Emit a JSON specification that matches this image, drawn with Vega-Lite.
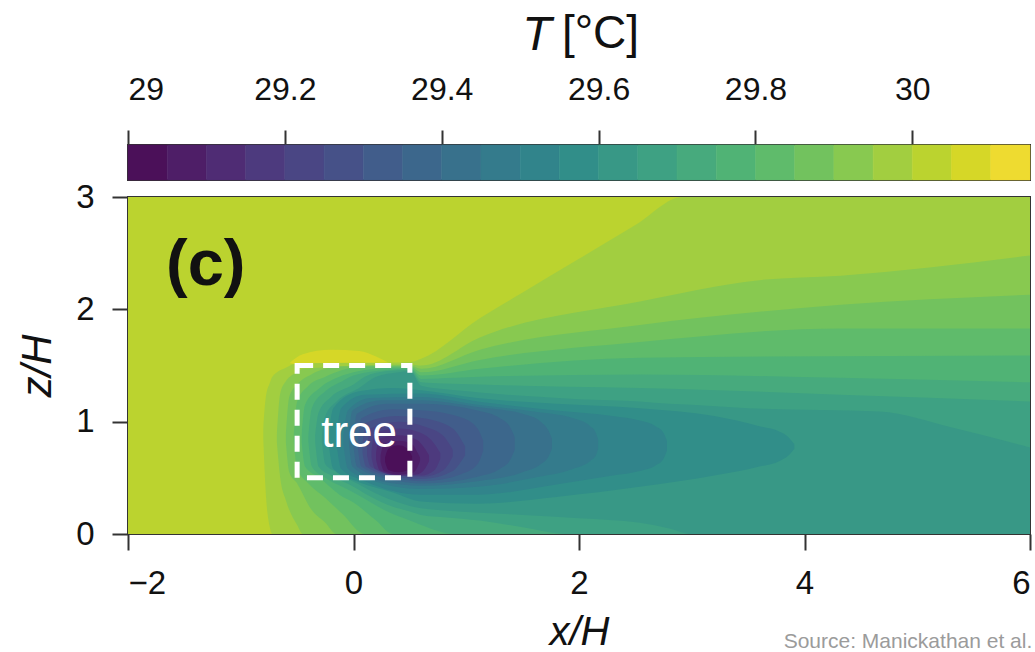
{
  "$schema": "https://vega.github.io/schema/vega-lite/v6.json",
  "background": "white",
  "padding": {"left": 15, "top": 9, "right": 0, "bottom": 0},
  "config": {
    "font": "Liberation Sans",
    "view": {"stroke": "#333333", "strokeWidth": 2},
    "axis": {"grid": false, "domain": false, "tickColor": "#333333", "tickWidth": 2, "labelColor": "#111111", "titleColor": "#111111", "titleFontWeight": "normal"}
  },
  "title": {"text": "Source: Manickathan et al.", "orient": "bottom", "anchor": "start", "frame": "bounds", "dx": 768, "offset": -22, "fontSize": 21, "fontWeight": "normal", "color": "#9b9b9b"},
  "spacing": 17,
  "bounds": "flush",
  "resolve": {"scale": {"color": "independent", "stroke": "independent"}},
  "datasets": {
    "bands": [
      {"t0": 29, "t1": 29.05}, {"t0": 29.05, "t1": 29.1}, {"t0": 29.1, "t1": 29.15}, {"t0": 29.15, "t1": 29.2},
      {"t0": 29.2, "t1": 29.25}, {"t0": 29.25, "t1": 29.3}, {"t0": 29.3, "t1": 29.35}, {"t0": 29.35, "t1": 29.4},
      {"t0": 29.4, "t1": 29.45}, {"t0": 29.45, "t1": 29.5}, {"t0": 29.5, "t1": 29.55}, {"t0": 29.55, "t1": 29.6},
      {"t0": 29.6, "t1": 29.65}, {"t0": 29.65, "t1": 29.7}, {"t0": 29.7, "t1": 29.75}, {"t0": 29.75, "t1": 29.8},
      {"t0": 29.8, "t1": 29.85}, {"t0": 29.85, "t1": 29.9}, {"t0": 29.9, "t1": 29.95}, {"t0": 29.95, "t1": 30},
      {"t0": 30, "t1": 30.05}, {"t0": 30.05, "t1": 30.1}, {"t0": 30.1, "t1": 30.15}
    ],
    "tree": [{"x0": -0.5, "x1": 0.5, "z0": 0.5, "z1": 1.5}],
    "treeLabel": [{"x": 0.05, "z": 0.775, "label": "tree"}],
    "panel": [{"x": -1.31, "z": 2.22, "label": "(c)"}],
    "contours": [
      {"t":30.025,"x":-2,"lo":0,"hi":3},{"t":30.025,"x":6,"lo":0,"hi":3},

      {"t":30.075,"x":-0.56,"lo":1.52,"hi":1.53},{"t":30.075,"x":-0.45,"lo":1.5,"hi":1.6},{"t":30.075,"x":-0.2,"lo":1.5,"hi":1.64},{"t":30.075,"x":0.05,"lo":1.5,"hi":1.63},{"t":30.075,"x":0.2,"lo":1.5,"hi":1.58},{"t":30.075,"x":0.32,"lo":1.51,"hi":1.52},

      {"t":29.975,"x":-0.8,"lo":0.84,"hi":0.94},{"t":29.975,"x":-0.78,"lo":0.4,"hi":1.2},{"t":29.975,"x":-0.74,"lo":0.05,"hi":1.35},{"t":29.975,"x":-0.72,"lo":0,"hi":1.4},{"t":29.975,"x":-0.6,"lo":0,"hi":1.48},{"t":29.975,"x":-0.5,"lo":0,"hi":1.52},{"t":29.975,"x":0.5,"lo":0,"hi":1.53},{"t":29.975,"x":0.6,"lo":0,"hi":1.56},{"t":29.975,"x":1.12,"lo":0,"hi":1.92},{"t":29.975,"x":1.5,"lo":0,"hi":2.15},{"t":29.975,"x":2,"lo":0,"hi":2.45},{"t":29.975,"x":2.5,"lo":0,"hi":2.75},{"t":29.975,"x":2.92,"lo":0,"hi":3},{"t":29.975,"x":6,"lo":0,"hi":3},

      {"t":29.925,"x":-0.68,"lo":0.82,"hi":0.88},{"t":29.925,"x":-0.65,"lo":0.5,"hi":1.25},{"t":29.925,"x":-0.6,"lo":0.3,"hi":1.36},{"t":29.925,"x":-0.5,"lo":0.08,"hi":1.44},{"t":29.925,"x":-0.45,"lo":0,"hi":1.47},{"t":29.925,"x":0.5,"lo":0,"hi":1.51},{"t":29.925,"x":0.6,"lo":0,"hi":1.5},{"t":29.925,"x":1.12,"lo":0,"hi":1.75},{"t":29.925,"x":2.54,"lo":0,"hi":2.07},{"t":29.925,"x":3.6,"lo":0,"hi":2.26},{"t":29.925,"x":4.32,"lo":0,"hi":2.3},{"t":29.925,"x":6,"lo":0,"hi":2.48},

      {"t":29.875,"x":-0.6,"lo":0.82,"hi":0.88},{"t":29.875,"x":-0.57,"lo":0.55,"hi":1.22},{"t":29.875,"x":-0.5,"lo":0.45,"hi":1.33},{"t":29.875,"x":-0.375,"lo":0.22,"hi":1.42},{"t":29.875,"x":-0.25,"lo":0.1,"hi":1.47},{"t":29.875,"x":-0.15,"lo":0,"hi":1.49},{"t":29.875,"x":0.5,"lo":0,"hi":1.5},{"t":29.875,"x":0.6,"lo":0,"hi":1.47},{"t":29.875,"x":1.12,"lo":0,"hi":1.64},{"t":29.875,"x":2.54,"lo":0,"hi":1.86},{"t":29.875,"x":4.32,"lo":0,"hi":2.04},{"t":29.875,"x":6,"lo":0,"hi":2.13},

      {"t":29.825,"x":-0.53,"lo":0.82,"hi":0.88},{"t":29.825,"x":-0.5,"lo":0.58,"hi":1.18},{"t":29.825,"x":-0.4,"lo":0.45,"hi":1.32},{"t":29.825,"x":-0.25,"lo":0.32,"hi":1.4},{"t":29.825,"x":-0.1,"lo":0.18,"hi":1.46},{"t":29.825,"x":0.1,"lo":0,"hi":1.49},{"t":29.825,"x":0.5,"lo":0,"hi":1.49},{"t":29.825,"x":0.6,"lo":0,"hi":1.44},{"t":29.825,"x":1.12,"lo":0,"hi":1.55},{"t":29.825,"x":2.54,"lo":0,"hi":1.71},{"t":29.825,"x":4.32,"lo":0,"hi":1.83},{"t":29.825,"x":6,"lo":0,"hi":1.83},

      {"t":29.775,"x":-0.46,"lo":0.82,"hi":0.88},{"t":29.775,"x":-0.43,"lo":0.6,"hi":1.15},{"t":29.775,"x":-0.3,"lo":0.5,"hi":1.3},{"t":29.775,"x":-0.125,"lo":0.35,"hi":1.4},{"t":29.775,"x":0,"lo":0.28,"hi":1.44},{"t":29.775,"x":0.2,"lo":0.12,"hi":1.47},{"t":29.775,"x":0.35,"lo":0,"hi":1.48},{"t":29.775,"x":0.5,"lo":0,"hi":1.48},{"t":29.775,"x":0.6,"lo":0,"hi":1.41},{"t":29.775,"x":1.12,"lo":0,"hi":1.47},{"t":29.775,"x":2.54,"lo":0,"hi":1.57},{"t":29.775,"x":6,"lo":0,"hi":1.59},

      {"t":29.725,"x":-0.4,"lo":0.82,"hi":0.88},{"t":29.725,"x":-0.37,"lo":0.6,"hi":1.12},{"t":29.725,"x":-0.25,"lo":0.5,"hi":1.27},{"t":29.725,"x":-0.1,"lo":0.42,"hi":1.36},{"t":29.725,"x":0,"lo":0.37,"hi":1.41},{"t":29.725,"x":0.3,"lo":0.2,"hi":1.46},{"t":29.725,"x":0.5,"lo":0.12,"hi":1.47},{"t":29.725,"x":0.6,"lo":0.08,"hi":1.38},{"t":29.725,"x":0.9,"lo":0,"hi":1.39},{"t":29.725,"x":1.12,"lo":0,"hi":1.4},{"t":29.725,"x":2.54,"lo":0,"hi":1.42},{"t":29.725,"x":4.32,"lo":0,"hi":1.39},{"t":29.725,"x":6,"lo":0,"hi":1.35},

      {"t":29.675,"x":-0.34,"lo":0.82,"hi":0.88},{"t":29.675,"x":-0.31,"lo":0.6,"hi":1.08},{"t":29.675,"x":-0.2,"lo":0.52,"hi":1.22},{"t":29.675,"x":0,"lo":0.42,"hi":1.33},{"t":29.675,"x":0.1,"lo":0.36,"hi":1.4},{"t":29.675,"x":0.3,"lo":0.26,"hi":1.45},{"t":29.675,"x":0.5,"lo":0.2,"hi":1.46},{"t":29.675,"x":0.6,"lo":0.17,"hi":1.35},{"t":29.675,"x":0.8,"lo":0.15,"hi":1.34},{"t":29.675,"x":1.12,"lo":0.12,"hi":1.33},{"t":29.675,"x":1.5,"lo":0.06,"hi":1.32},{"t":29.675,"x":1.9,"lo":0,"hi":1.31},{"t":29.675,"x":2.54,"lo":0,"hi":1.3},{"t":29.675,"x":4.32,"lo":0,"hi":1.24},{"t":29.675,"x":6,"lo":0,"hi":1.18},

      {"t":29.625,"x":-0.28,"lo":0.82,"hi":0.88},{"t":29.625,"x":-0.25,"lo":0.62,"hi":1.05},{"t":29.625,"x":-0.15,"lo":0.55,"hi":1.18},{"t":29.625,"x":0.05,"lo":0.44,"hi":1.3},{"t":29.625,"x":0.2,"lo":0.36,"hi":1.4},{"t":29.625,"x":0.4,"lo":0.28,"hi":1.44},{"t":29.625,"x":0.5,"lo":0.25,"hi":1.45},{"t":29.625,"x":0.6,"lo":0.23,"hi":1.32},{"t":29.625,"x":0.8,"lo":0.21,"hi":1.29},{"t":29.625,"x":1.12,"lo":0.19,"hi":1.26},{"t":29.625,"x":1.5,"lo":0.17,"hi":1.23},{"t":29.625,"x":2,"lo":0.14,"hi":1.2},{"t":29.625,"x":2.54,"lo":0.1,"hi":1.18},{"t":29.625,"x":2.8,"lo":0.05,"hi":1.16},{"t":29.625,"x":3,"lo":0,"hi":1.15},{"t":29.625,"x":3.5,"lo":0,"hi":1.12},{"t":29.625,"x":4.67,"lo":0,"hi":1.09},{"t":29.625,"x":5.3,"lo":0,"hi":0.95},{"t":29.625,"x":6,"lo":0,"hi":0.77},

      {"t":29.575,"x":-0.22,"lo":0.8,"hi":0.88},{"t":29.575,"x":-0.18,"lo":0.58,"hi":1.12},{"t":29.575,"x":0.05,"lo":0.46,"hi":1.27},{"t":29.575,"x":0.35,"lo":0.37,"hi":1.3},{"t":29.575,"x":0.6,"lo":0.29,"hi":1.28},{"t":29.575,"x":1.1,"lo":0.27,"hi":1.21},{"t":29.575,"x":1.8,"lo":0.33,"hi":1.16},{"t":29.575,"x":2.54,"lo":0.42,"hi":1.12},{"t":29.575,"x":3.2,"lo":0.52,"hi":1.05},{"t":29.575,"x":3.6,"lo":0.6,"hi":0.96},{"t":29.575,"x":3.78,"lo":0.65,"hi":0.91},{"t":29.575,"x":3.86,"lo":0.7,"hi":0.86},{"t":29.575,"x":3.91,"lo":0.76,"hi":0.8},

      {"t":29.525,"x":-0.15,"lo":0.8,"hi":0.88},{"t":29.525,"x":-0.11,"lo":0.58,"hi":1.12},{"t":29.525,"x":0.1,"lo":0.47,"hi":1.24},{"t":29.525,"x":0.6,"lo":0.35,"hi":1.25},{"t":29.525,"x":1.1,"lo":0.35,"hi":1.18},{"t":29.525,"x":1.8,"lo":0.44,"hi":1.1},{"t":29.525,"x":2.3,"lo":0.52,"hi":1.05},{"t":29.525,"x":2.54,"lo":0.56,"hi":1.01},{"t":29.525,"x":2.68,"lo":0.61,"hi":0.96},{"t":29.525,"x":2.75,"lo":0.67,"hi":0.9},{"t":29.525,"x":2.78,"lo":0.74,"hi":0.83},

      {"t":29.475,"x":-0.09,"lo":0.8,"hi":0.88},{"t":29.475,"x":-0.05,"lo":0.58,"hi":1.1},{"t":29.475,"x":0.15,"lo":0.48,"hi":1.21},{"t":29.475,"x":0.6,"lo":0.4,"hi":1.22},{"t":29.475,"x":1.1,"lo":0.42,"hi":1.15},{"t":29.475,"x":1.6,"lo":0.5,"hi":1.09},{"t":29.475,"x":1.95,"lo":0.58,"hi":1.03},{"t":29.475,"x":2.1,"lo":0.65,"hi":0.96},{"t":29.475,"x":2.15,"lo":0.7,"hi":0.9},{"t":29.475,"x":2.17,"lo":0.76,"hi":0.84},

      {"t":29.425,"x":-0.04,"lo":0.8,"hi":0.88},{"t":29.425,"x":-0.01,"lo":0.6,"hi":1.1},{"t":29.425,"x":0.25,"lo":0.47,"hi":1.19},{"t":29.425,"x":0.6,"lo":0.43,"hi":1.19},{"t":29.425,"x":1.1,"lo":0.47,"hi":1.13},{"t":29.425,"x":1.5,"lo":0.55,"hi":1.07},{"t":29.425,"x":1.66,"lo":0.62,"hi":1},{"t":29.425,"x":1.73,"lo":0.69,"hi":0.92},{"t":29.425,"x":1.76,"lo":0.76,"hi":0.85},

      {"t":29.375,"x":0,"lo":0.78,"hi":0.86},{"t":29.375,"x":0.03,"lo":0.6,"hi":1.07},{"t":29.375,"x":0.3,"lo":0.49,"hi":1.16},{"t":29.375,"x":0.62,"lo":0.45,"hi":1.16},{"t":29.375,"x":1.1,"lo":0.51,"hi":1.1},{"t":29.375,"x":1.3,"lo":0.58,"hi":1.03},{"t":29.375,"x":1.39,"lo":0.66,"hi":0.95},{"t":29.375,"x":1.43,"lo":0.75,"hi":0.86},

      {"t":29.325,"x":0.04,"lo":0.75,"hi":0.83},{"t":29.325,"x":0.07,"lo":0.6,"hi":1.03},{"t":29.325,"x":0.35,"lo":0.5,"hi":1.11},{"t":29.325,"x":0.62,"lo":0.47,"hi":1.1},{"t":29.325,"x":0.95,"lo":0.53,"hi":1.04},{"t":29.325,"x":1.1,"lo":0.62,"hi":0.94},{"t":29.325,"x":1.15,"lo":0.74,"hi":0.83},

      {"t":29.275,"x":0.08,"lo":0.72,"hi":0.8},{"t":29.275,"x":0.11,"lo":0.6,"hi":0.99},{"t":29.275,"x":0.38,"lo":0.51,"hi":1.05},{"t":29.275,"x":0.62,"lo":0.49,"hi":1.03},{"t":29.275,"x":0.88,"lo":0.56,"hi":0.94},{"t":29.275,"x":0.99,"lo":0.7,"hi":0.78},

      {"t":29.225,"x":0.12,"lo":0.7,"hi":0.76},{"t":29.225,"x":0.15,"lo":0.6,"hi":0.94},{"t":29.225,"x":0.4,"lo":0.52,"hi":1},{"t":29.225,"x":0.62,"lo":0.51,"hi":0.96},{"t":29.225,"x":0.8,"lo":0.57,"hi":0.87},{"t":29.225,"x":0.88,"lo":0.69,"hi":0.75},

      {"t":29.175,"x":0.16,"lo":0.68,"hi":0.74},{"t":29.175,"x":0.19,"lo":0.58,"hi":0.9},{"t":29.175,"x":0.4,"lo":0.52,"hi":0.94},{"t":29.175,"x":0.6,"lo":0.52,"hi":0.9},{"t":29.175,"x":0.72,"lo":0.57,"hi":0.8},{"t":29.175,"x":0.77,"lo":0.67,"hi":0.72},

      {"t":29.125,"x":0.2,"lo":0.66,"hi":0.72},{"t":29.125,"x":0.23,"lo":0.57,"hi":0.85},{"t":29.125,"x":0.4,"lo":0.52,"hi":0.88},{"t":29.125,"x":0.56,"lo":0.53,"hi":0.84},{"t":29.125,"x":0.64,"lo":0.59,"hi":0.75},{"t":29.125,"x":0.67,"lo":0.65,"hi":0.7},

      {"t":29.075,"x":0.24,"lo":0.64,"hi":0.7},{"t":29.075,"x":0.27,"lo":0.56,"hi":0.8},{"t":29.075,"x":0.4,"lo":0.53,"hi":0.83},{"t":29.075,"x":0.52,"lo":0.54,"hi":0.8},{"t":29.075,"x":0.57,"lo":0.6,"hi":0.72},{"t":29.075,"x":0.59,"lo":0.65,"hi":0.68},

      {"t":29.025,"x":0.28,"lo":0.64,"hi":0.68},{"t":29.025,"x":0.31,"lo":0.57,"hi":0.76},{"t":29.025,"x":0.4,"lo":0.55,"hi":0.79},{"t":29.025,"x":0.48,"lo":0.57,"hi":0.76},{"t":29.025,"x":0.52,"lo":0.63,"hi":0.69}
    ]
  },
  "vconcat": [
    {
      "width": 902,
      "height": 35,
      "data": {"name": "bands"},
      "title": {"text": "T", "fontStyle": "italic", "fontSize": 48, "fontWeight": "normal", "anchor": "middle", "dx": -42, "offset": -50, "color": "#111111"},
      "mark": {"type": "rect", "strokeWidth": 0.6},
      "encoding": {
        "x": {
          "field": "t0", "type": "quantitative",
          "scale": {"domain": [29, 30.15], "nice": false, "zero": false},
          "axis": {"orient": "top", "values": [29, 29.2, 29.4, 29.6, 29.8, 30], "format": "~g", "tickSize": 15, "labelFontSize": 32, "labelPadding": 24, "title": "[°C]", "titleFontSize": 46, "titleX": 472, "titleAlign": "center", "titlePadding": 16}
        },
        "x2": {"field": "t1"},
        "color": {
          "field": "t0", "type": "quantitative", "legend": null,
          "scale": {"type": "threshold",
            "domain": [29.05, 29.1, 29.15, 29.2, 29.25, 29.3, 29.35, 29.4, 29.45, 29.5, 29.55, 29.6, 29.65, 29.7, 29.75, 29.8, 29.85, 29.9, 29.95, 30, 30.05, 30.1],
            "range": ["#4b1059", "#4e1e67", "#4f2c74", "#4d3a7e", "#4a4684", "#465188", "#415d8b", "#3c678c", "#38718c", "#347b8c", "#31848b", "#318e89", "#389886", "#3ea183", "#47aa7d", "#50b375", "#5fbb6b", "#72c25e", "#88c950", "#a2ce40", "#bbd32f", "#d6d727", "#eedb30"]}
        },
        "stroke": {
          "field": "t0", "type": "quantitative", "legend": null,
          "scale": {"type": "threshold",
            "domain": [29.05, 29.1, 29.15, 29.2, 29.25, 29.3, 29.35, 29.4, 29.45, 29.5, 29.55, 29.6, 29.65, 29.7, 29.75, 29.8, 29.85, 29.9, 29.95, 30, 30.05, 30.1],
            "range": ["#4b1059", "#4e1e67", "#4f2c74", "#4d3a7e", "#4a4684", "#465188", "#415d8b", "#3c678c", "#38718c", "#347b8c", "#31848b", "#318e89", "#389886", "#3ea183", "#47aa7d", "#50b375", "#5fbb6b", "#72c25e", "#88c950", "#a2ce40", "#bbd32f", "#d6d727", "#eedb30"]}
        }
      }
    },
    {
      "width": 902,
      "height": 337,
      "layer": [
        {
          "data": {"name": "contours"},
          "encoding": {
            "x": {
              "field": "x", "type": "quantitative", "title": "x/H",
              "scale": {"domain": [-2, 6], "nice": false, "zero": false},
              "axis": {"values": [-2, 0, 2, 4, 6], "format": "d", "tickSize": 16, "labelFontSize": 33, "labelPadding": 17, "titleFontSize": 40, "titleFontStyle": "italic", "titlePadding": 12}
            },
            "y": {
              "field": "lo", "type": "quantitative", "title": "z/H",
              "scale": {"domain": [0, 3], "nice": false, "zero": false},
              "axis": {"values": [0, 1, 2, 3], "format": "d", "tickSize": 16, "labelFontSize": 33, "labelPadding": 18, "titleFontSize": 42, "titleFontStyle": "italic", "titlePadding": 16}
            },
            "y2": {"field": "hi"},
            "color": {
              "field": "t", "type": "quantitative", "legend": null,
              "scale": {"type": "threshold",
                "domain": [29.05, 29.1, 29.15, 29.2, 29.25, 29.3, 29.35, 29.4, 29.45, 29.5, 29.55, 29.6, 29.65, 29.7, 29.75, 29.8, 29.85, 29.9, 29.95, 30, 30.05, 30.1],
                "range": ["#4b1059", "#4e1e67", "#4f2c74", "#4d3a7e", "#4a4684", "#465188", "#415d8b", "#3c678c", "#38718c", "#347b8c", "#31848b", "#318e89", "#389886", "#3ea183", "#47aa7d", "#50b375", "#5fbb6b", "#72c25e", "#88c950", "#a2ce40", "#bbd32f", "#d6d727", "#eedb30"]}
            }
          },
          "layer": [
            {"transform": [{"filter": "datum.t == 30.025"}], "mark": {"type": "area", "interpolate": "monotone"}},
            {"transform": [{"filter": "datum.t == 30.075"}], "mark": {"type": "area", "interpolate": "monotone"}},
            {"transform": [{"filter": "datum.t == 29.975"}], "mark": {"type": "area", "interpolate": "monotone"}},
            {"transform": [{"filter": "datum.t == 29.925"}], "mark": {"type": "area", "interpolate": "monotone"}},
            {"transform": [{"filter": "datum.t == 29.875"}], "mark": {"type": "area", "interpolate": "monotone"}},
            {"transform": [{"filter": "datum.t == 29.825"}], "mark": {"type": "area", "interpolate": "monotone"}},
            {"transform": [{"filter": "datum.t == 29.775"}], "mark": {"type": "area", "interpolate": "monotone"}},
            {"transform": [{"filter": "datum.t == 29.725"}], "mark": {"type": "area", "interpolate": "monotone"}},
            {"transform": [{"filter": "datum.t == 29.675"}], "mark": {"type": "area", "interpolate": "monotone"}},
            {"transform": [{"filter": "datum.t == 29.625"}], "mark": {"type": "area", "interpolate": "monotone"}},
            {"transform": [{"filter": "datum.t == 29.575"}], "mark": {"type": "area", "interpolate": "monotone"}},
            {"transform": [{"filter": "datum.t == 29.525"}], "mark": {"type": "area", "interpolate": "monotone"}},
            {"transform": [{"filter": "datum.t == 29.475"}], "mark": {"type": "area", "interpolate": "monotone"}},
            {"transform": [{"filter": "datum.t == 29.425"}], "mark": {"type": "area", "interpolate": "monotone"}},
            {"transform": [{"filter": "datum.t == 29.375"}], "mark": {"type": "area", "interpolate": "monotone"}},
            {"transform": [{"filter": "datum.t == 29.325"}], "mark": {"type": "area", "interpolate": "monotone"}},
            {"transform": [{"filter": "datum.t == 29.275"}], "mark": {"type": "area", "interpolate": "monotone"}},
            {"transform": [{"filter": "datum.t == 29.225"}], "mark": {"type": "area", "interpolate": "monotone"}},
            {"transform": [{"filter": "datum.t == 29.175"}], "mark": {"type": "area", "interpolate": "monotone"}},
            {"transform": [{"filter": "datum.t == 29.125"}], "mark": {"type": "area", "interpolate": "monotone"}},
            {"transform": [{"filter": "datum.t == 29.075"}], "mark": {"type": "area", "interpolate": "monotone"}},
            {"transform": [{"filter": "datum.t == 29.025"}], "mark": {"type": "area", "interpolate": "monotone"}}
          ]
        },
        {
          "data": {"name": "tree"},
          "mark": {"type": "rect", "fill": "transparent", "stroke": "white", "strokeWidth": 5, "strokeDash": [16, 10]},
          "encoding": {
            "x": {"field": "x0", "type": "quantitative", "title": "x/H"},
            "x2": {"field": "x1"},
            "y": {"field": "z0", "type": "quantitative", "title": "z/H"},
            "y2": {"field": "z1"}
          }
        },
        {
          "data": {"name": "treeLabel"},
          "mark": {"type": "text", "fontSize": 44, "color": "white", "align": "center", "baseline": "alphabetic"},
          "encoding": {
            "x": {"field": "x", "type": "quantitative", "title": "x/H"},
            "y": {"field": "z", "type": "quantitative", "title": "z/H"},
            "text": {"field": "label"}
          }
        },
        {
          "data": {"name": "panel"},
          "mark": {"type": "text", "fontSize": 65, "fontWeight": "bold", "color": "#111111", "align": "center", "baseline": "alphabetic"},
          "encoding": {
            "x": {"field": "x", "type": "quantitative", "title": "x/H"},
            "y": {"field": "z", "type": "quantitative", "title": "z/H"},
            "text": {"field": "label"}
          }
        }
      ]
    }
  ]
}
